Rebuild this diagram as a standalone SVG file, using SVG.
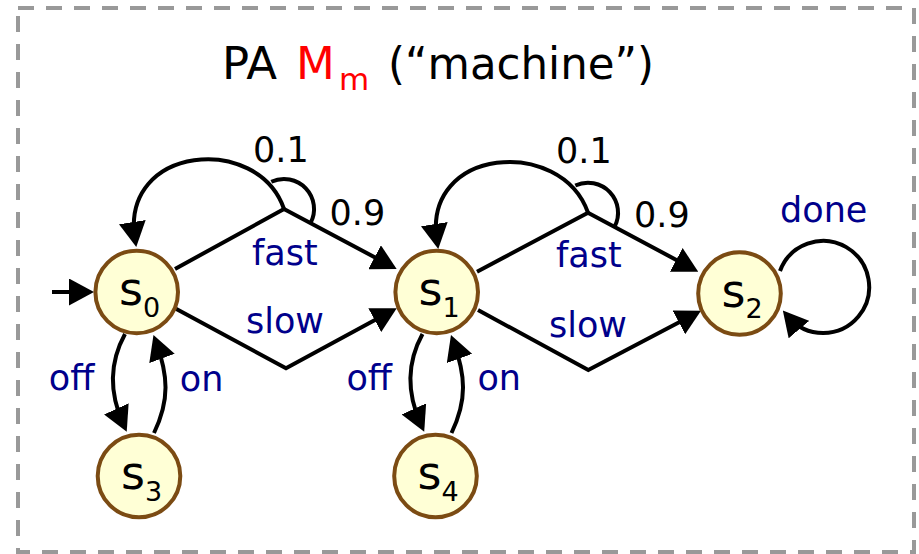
<svg xmlns="http://www.w3.org/2000/svg" width="919" height="554" viewBox="0 0 919 554">
  <style>
    .frame { fill: none; stroke: #999999; stroke-width: 4; stroke-dasharray: 16 12; }
    .state { fill: #ffffd6; stroke: #7b4b13; stroke-width: 4; }
    .edge { fill: none; stroke: #000000; stroke-width: 4; stroke-linejoin: miter; }
    .arrow { marker-end: url(#head); }
    .lbl { font-family: "DejaVu Sans", "Liberation Sans", sans-serif; }
    .name { font-size: 46px; fill: #000000; }
    .sub { font-size: 27px; }
    .act { font-size: 35px; fill: #00008b; }
    .prob { font-size: 35px; fill: #000000; }
    .title { font-size: 45px; fill: #000000; }
  </style>
  <defs>
    <marker id="head" viewBox="0 0 25 27" markerWidth="25" markerHeight="27" refX="17" refY="13.5" orient="auto" markerUnits="userSpaceOnUse">
      <path d="M0,0 L25,13.5 L0,27 z" fill="#000000"/>
    </marker>
  </defs>

  <rect class="frame" x="18" y="8" width="896" height="544"/>

  <g id="title" class="lbl title">
    <text x="222" y="79.3">PA</text>
    <text x="296" y="79.3" fill="#ff0000">M</text>
    <text x="339" y="90" font-size="31" fill="#ff0000">m</text>
    <text x="388" y="79.3" textLength="266" lengthAdjust="spacingAndGlyphs">(“machine”)</text>
  </g>

  <g id="connectors">
    <!-- initial state marker -->
    <path class="edge arrow" d="M52,292 L86,292"/>

    <!-- s0: fast branch (0.1 back to s0, 0.9 on to s1) -->
    <path class="edge arrow" d="M175,269 L284,209 L389.6,265.2"/>
    <path class="edge arrow" d="M284,209 C258,133 120,145 135,239"/>
    <path class="edge" d="M271.3,181.8 A30,30 0 0 1 310.5,223.1"/>
    <!-- s0: slow -->
    <path class="edge arrow" d="M175,308.3 L286,368.3 L389.7,312.1"/>
    <!-- s0 <-> s3 -->
    <path class="edge arrow" d="M125,334 C108,365 110,395 123.4,424.4"/>
    <path class="edge arrow" d="M154,433 C170,400 168,375 156.2,342.5"/>

    <!-- s1: fast branch (0.1 back to s1, 0.9 on to s2) -->
    <path class="edge arrow" d="M477,271.7 L588,212.7 L691.2,267.9"/>
    <path class="edge arrow" d="M588,212.7 C561,136 422,147 437,241"/>
    <path class="edge" d="M575.3,185.5 A30,30 0 0 1 614.5,226.8"/>
    <!-- s1: slow -->
    <path class="edge arrow" d="M478,310 L588.3,370 L693.9,314.4"/>
    <!-- s1 <-> s4 -->
    <path class="edge arrow" d="M422.5,334 C405.5,365 407.5,395 420.9,424.4"/>
    <path class="edge arrow" d="M451.5,433 C467.5,400 465.5,375 453.7,342.5"/>

    <!-- s2: done self-loop -->
    <path class="edge arrow" d="M780,271 A46,46 0 1 1 788,316.6"/>

    <!-- transition labels -->
    <g class="lbl">
      <text class="act" x="252" y="265">fast</text>
      <text class="act" x="246" y="333">slow</text>
      <text class="prob" x="253" y="161.7">0.1</text>
      <text class="prob" x="329.5" y="225">0.9</text>
      <text class="act" x="48.8" y="390">off</text>
      <text class="act" x="179.8" y="390.5">on</text>

      <text class="act" x="556" y="266.7">fast</text>
      <text class="act" x="549" y="336.7">slow</text>
      <text class="prob" x="556" y="163.3">0.1</text>
      <text class="prob" x="634" y="227.3">0.9</text>
      <text class="act" x="346.4" y="390">off</text>
      <text class="act" x="477.4" y="390">on</text>

      <text class="act" x="780" y="221.5">done</text>
    </g>
  </g>

  <g id="s0">
    <circle class="state" cx="136.7" cy="292" r="41.3"/>
    <text class="lbl name" x="139.5" y="305" text-anchor="middle">s<tspan class="sub" dy="11.5">0</tspan></text>
  </g>
  <g id="s1">
    <circle class="state" cx="436.7" cy="292" r="41.3"/>
    <text class="lbl name" x="439" y="305" text-anchor="middle">s<tspan class="sub" dy="11.5">1</tspan></text>
  </g>
  <g id="s2">
    <circle class="state" cx="739.5" cy="293.5" r="41.3"/>
    <text class="lbl name" x="742" y="306.5" text-anchor="middle">s<tspan class="sub" dy="11.5">2</tspan></text>
  </g>
  <g id="s3">
    <circle class="state" cx="139" cy="476" r="41.3"/>
    <text class="lbl name" x="141.5" y="489" text-anchor="middle">s<tspan class="sub" dy="11.5">3</tspan></text>
  </g>
  <g id="s4">
    <circle class="state" cx="435.5" cy="476" r="41.3"/>
    <text class="lbl name" x="438" y="489" text-anchor="middle">s<tspan class="sub" dy="11.5">4</tspan></text>
  </g>
</svg>
